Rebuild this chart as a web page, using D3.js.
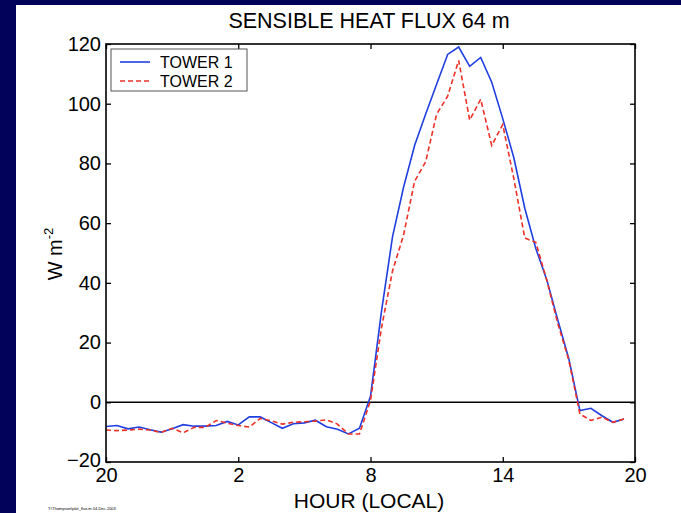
<!DOCTYPE html>
<html>
<head>
<meta charset="utf-8">
<script src="https://cdn.jsdelivr.net/npm/d3@7"></script>
<style>
  html, body { margin: 0; padding: 0; background: #02025a; }
  svg { display: block; }
  text { font-family: "Liberation Sans", Arial, Helvetica, sans-serif; fill: #000; }
</style>
</head>
<body>
<svg id="chart" width="681" height="513"></svg>
<script>
// Half-hourly local time (hours, 20 = 20:00 first day, 44 = 20:00 next day)
const hours = [20,20.5,21,21.5,22,22.5,23,23.5,24,24.5,25,25.5,26,26.5,27,27.5,28,28.5,29,29.5,
               30,30.5,31,31.5,32,32.5,33,33.5,34,34.5,35,35.5,36,36.5,37,37.5,38,38.5,39,39.5,
               40,40.5,41,41.5,42,42.5,43,43.5];
const tower1 = [-8.1,-7.8,-8.9,-8.3,-9.2,-10.0,-8.9,-7.5,-8.0,-8.0,-7.8,-6.4,-7.6,-4.9,-4.9,-6.8,
                -8.7,-7.2,-6.9,-6.0,-8.2,-9.0,-10.6,-8.7,2.0,30.5,55.5,72,86,96.5,106.5,116.5,
                119,112.5,115.5,107.2,95,82,65,51.5,41,27.5,14.5,-2.8,-2.0,-4.5,-6.7,-5.6];
const tower2 = [-9.3,-9.5,-9.3,-9.0,-9.3,-10.1,-8.7,-10.2,-8.4,-8.4,-6.1,-7.0,-7.8,-8.3,-5.4,-6.2,
                -7.3,-6.7,-6.5,-6.3,-5.9,-7.3,-10.6,-10.6,0.6,25,44,56,74,80.5,96.5,102.5,
                114.5,94.5,101.5,86,93,75,55,53.6,40.8,26.3,14,-3.9,-6.1,-5.0,-6.7,-5.6];
const seriesNames = ["TOWER 1", "TOWER 2"];
const xTicks = [20, 26, 32, 38, 44];
const xTickLabels = ["20", "2", "8", "14", "20"];
const yTicks = [-20, 0, 20, 40, 60, 80, 100, 120];
const titleText = "SENSIBLE HEAT FLUX 64 m";
const xLabel = "HOUR (LOCAL)";
const footerText = "T:\\Thompson\\plot_flux.m  04-Dec-2003";

const svg = d3.select("#chart");
// white page area inside navy frame
svg.append("rect").attr("x", 16).attr("y", 5).attr("width", 681 - 16).attr("height", 513 - 5).attr("fill", "#fff");

const L = 106, R = 635, T = 44, B = 462;
const x = d3.scaleLinear().domain([20, 44]).range([L, R]);
const y = d3.scaleLinear().domain([-20, 120]).range([B, T]);

const fmtX = d => xTickLabels[xTicks.indexOf(d)];

// bottom axis
const gB = svg.append("g").attr("transform", `translate(0,${B})`)
  .call(d3.axisBottom(x).tickValues(xTicks).tickFormat(fmtX).tickSize(-5).tickPadding(6));
// top axis (ticks only)
const gT = svg.append("g").attr("transform", `translate(0,${T})`)
  .call(d3.axisTop(x).tickValues(xTicks).tickFormat("").tickSize(-5));
// left axis
const gL = svg.append("g").attr("transform", `translate(${L},0)`)
  .call(d3.axisLeft(y).tickValues(yTicks).tickFormat(d3.format("d")).tickSize(-5).tickPadding(5));
// right axis (ticks only)
const gR = svg.append("g").attr("transform", `translate(${R},0)`)
  .call(d3.axisRight(y).tickValues(yTicks).tickFormat("").tickSize(-5));

[gB, gT, gL, gR].forEach(g => {
  g.select(".domain").remove();
  g.selectAll(".tick line").attr("stroke", "#000").attr("stroke-width", 1.3);
  g.selectAll("text").attr("font-size", 20).attr("font-family", "Liberation Sans, Arial, sans-serif").attr("fill", "#000");
});
// lowest y label sits slightly above the corner, as in the reference
gL.selectAll(".tick").filter(d => d === -20).select("text").attr("dy", "0.2em");

// zero line
svg.append("line").attr("x1", L).attr("x2", R).attr("y1", y(0)).attr("y2", y(0))
  .attr("stroke", "#000").attr("stroke-width", 1.6);

// data lines
const line = d3.line().x((d, i) => x(hours[i])).y(d => y(d));
svg.append("path").datum(tower1).attr("d", line)
  .attr("fill", "none").attr("stroke", "#1f3fe0").attr("stroke-width", 1.6).attr("stroke-linejoin", "miter");
svg.append("path").datum(tower2).attr("d", line)
  .attr("fill", "none").attr("stroke", "#ec3128").attr("stroke-width", 1.6).attr("stroke-dasharray", "5,3");

// frame
svg.append("rect").attr("x", L).attr("y", T).attr("width", R - L).attr("height", B - T)
  .attr("fill", "none").attr("stroke", "#000").attr("stroke-width", 1.6);

// legend
const lg = svg.append("g");
lg.append("rect").attr("x", 111).attr("y", 49).attr("width", 136).attr("height", 42)
  .attr("fill", "#fff").attr("stroke", "#555").attr("stroke-width", 1);
const legColors = ["#1f3fe0", "#ec3128"];
const legDash = [null, "5,3"];
seriesNames.forEach((n, i) => {
  const yy = 62 + i * 19;
  lg.append("line").attr("x1", 120).attr("x2", 150).attr("y1", yy).attr("y2", yy)
    .attr("stroke", legColors[i]).attr("stroke-width", 1.6).attr("stroke-dasharray", legDash[i]);
  lg.append("text").attr("x", 160).attr("y", yy).attr("dy", "0.36em").attr("font-size", 16).text(n);
});

// title
svg.append("text").attr("x", 369).attr("y", 28).attr("text-anchor", "middle").attr("font-size", 21.5).text(titleText);
// x label
svg.append("text").attr("x", 369).attr("y", 508).attr("text-anchor", "middle").attr("font-size", 21).text(xLabel);
// y label
const yl = svg.append("text").attr("transform", "translate(62,254) rotate(-90)").attr("text-anchor", "middle").attr("font-size", 20);
yl.append("tspan").text("W m");
yl.append("tspan").attr("font-size", 13).attr("dy", -9).text("-2");
// footer
svg.append("text").attr("x", 48).attr("y", 510).attr("font-size", 4).attr("fill", "#555").text(footerText);
</script>
</body>
</html>
